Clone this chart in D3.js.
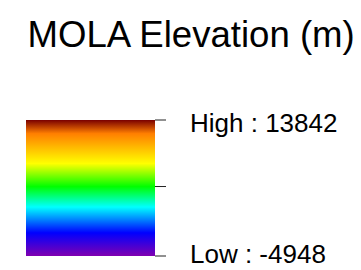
<!DOCTYPE html>
<html><head><meta charset="utf-8">
<script src="https://cdn.jsdelivr.net/npm/d3@7"></script>
<style>html,body{margin:0;padding:0;background:#fff;}svg{display:block;font-family:"Liberation Sans",Arial,Helvetica,sans-serif;}</style>
</head><body>
<script>
const title = "MOLA Elevation (m)";
const lowValue = -4948;
const highValue = 13842;
const tickValues = [-4948, 4650, 13842];
const tickLabels = ["Low : -4948", "", "High : 13842"];
const stopOffsets = [0, 0.1, 0.32, 0.49, 0.64, 0.83, 1];
const stopColors = ["#7a0000", "#ff7f00", "#ffff00", "#00ff00", "#00ffff", "#0000ff", "#8000b0"];

const W = 361, H = 270;
const svg = d3.select("body").append("svg").attr("width", W).attr("height", H);
const barX = 26, barW = 129, barTop = 120, barBottom = 256;
const y = d3.scaleLinear().domain([lowValue, highValue]).range([barBottom, barTop]);

const grad = svg.append("defs").append("linearGradient")
  .attr("id", "g").attr("x1", 0).attr("y1", 0).attr("x2", 0).attr("y2", 1);
grad.selectAll("stop").data(stopOffsets).join("stop")
  .attr("offset", d => d).attr("stop-color", (d, i) => stopColors[i]);

svg.append("text").attr("x", 27.5).attr("y", 46.7)
  .attr("font-size", 36.6).attr("fill", "#000").text(title);

svg.append("rect").attr("x", barX).attr("y", y(highValue))
  .attr("width", barW).attr("height", y(lowValue) - y(highValue))
  .attr("fill", "url(#g)");

const axis = d3.axisRight(y).tickValues(tickValues).tickSize(11).tickFormat((d, i) => "");
const ag = svg.append("g").attr("transform", `translate(${barX + barW},0)`).call(axis);
ag.select(".domain").remove();
ag.selectAll(".tick").attr("transform", d => `translate(0,${y(d)})`);
ag.selectAll(".tick line").attr("stroke", "#222");

svg.selectAll("text.lbl").data(tickValues.filter((d, i) => tickLabels[i]))
  .join("text").attr("class", "lbl")
  .attr("x", 190).attr("y", d => y(d) + (d === highValue ? 12.3 : 6.5))
  .attr("font-size", 26).attr("fill", "#000")
  .text(d => tickLabels[tickValues.indexOf(d)]);
</script>
</body></html>
